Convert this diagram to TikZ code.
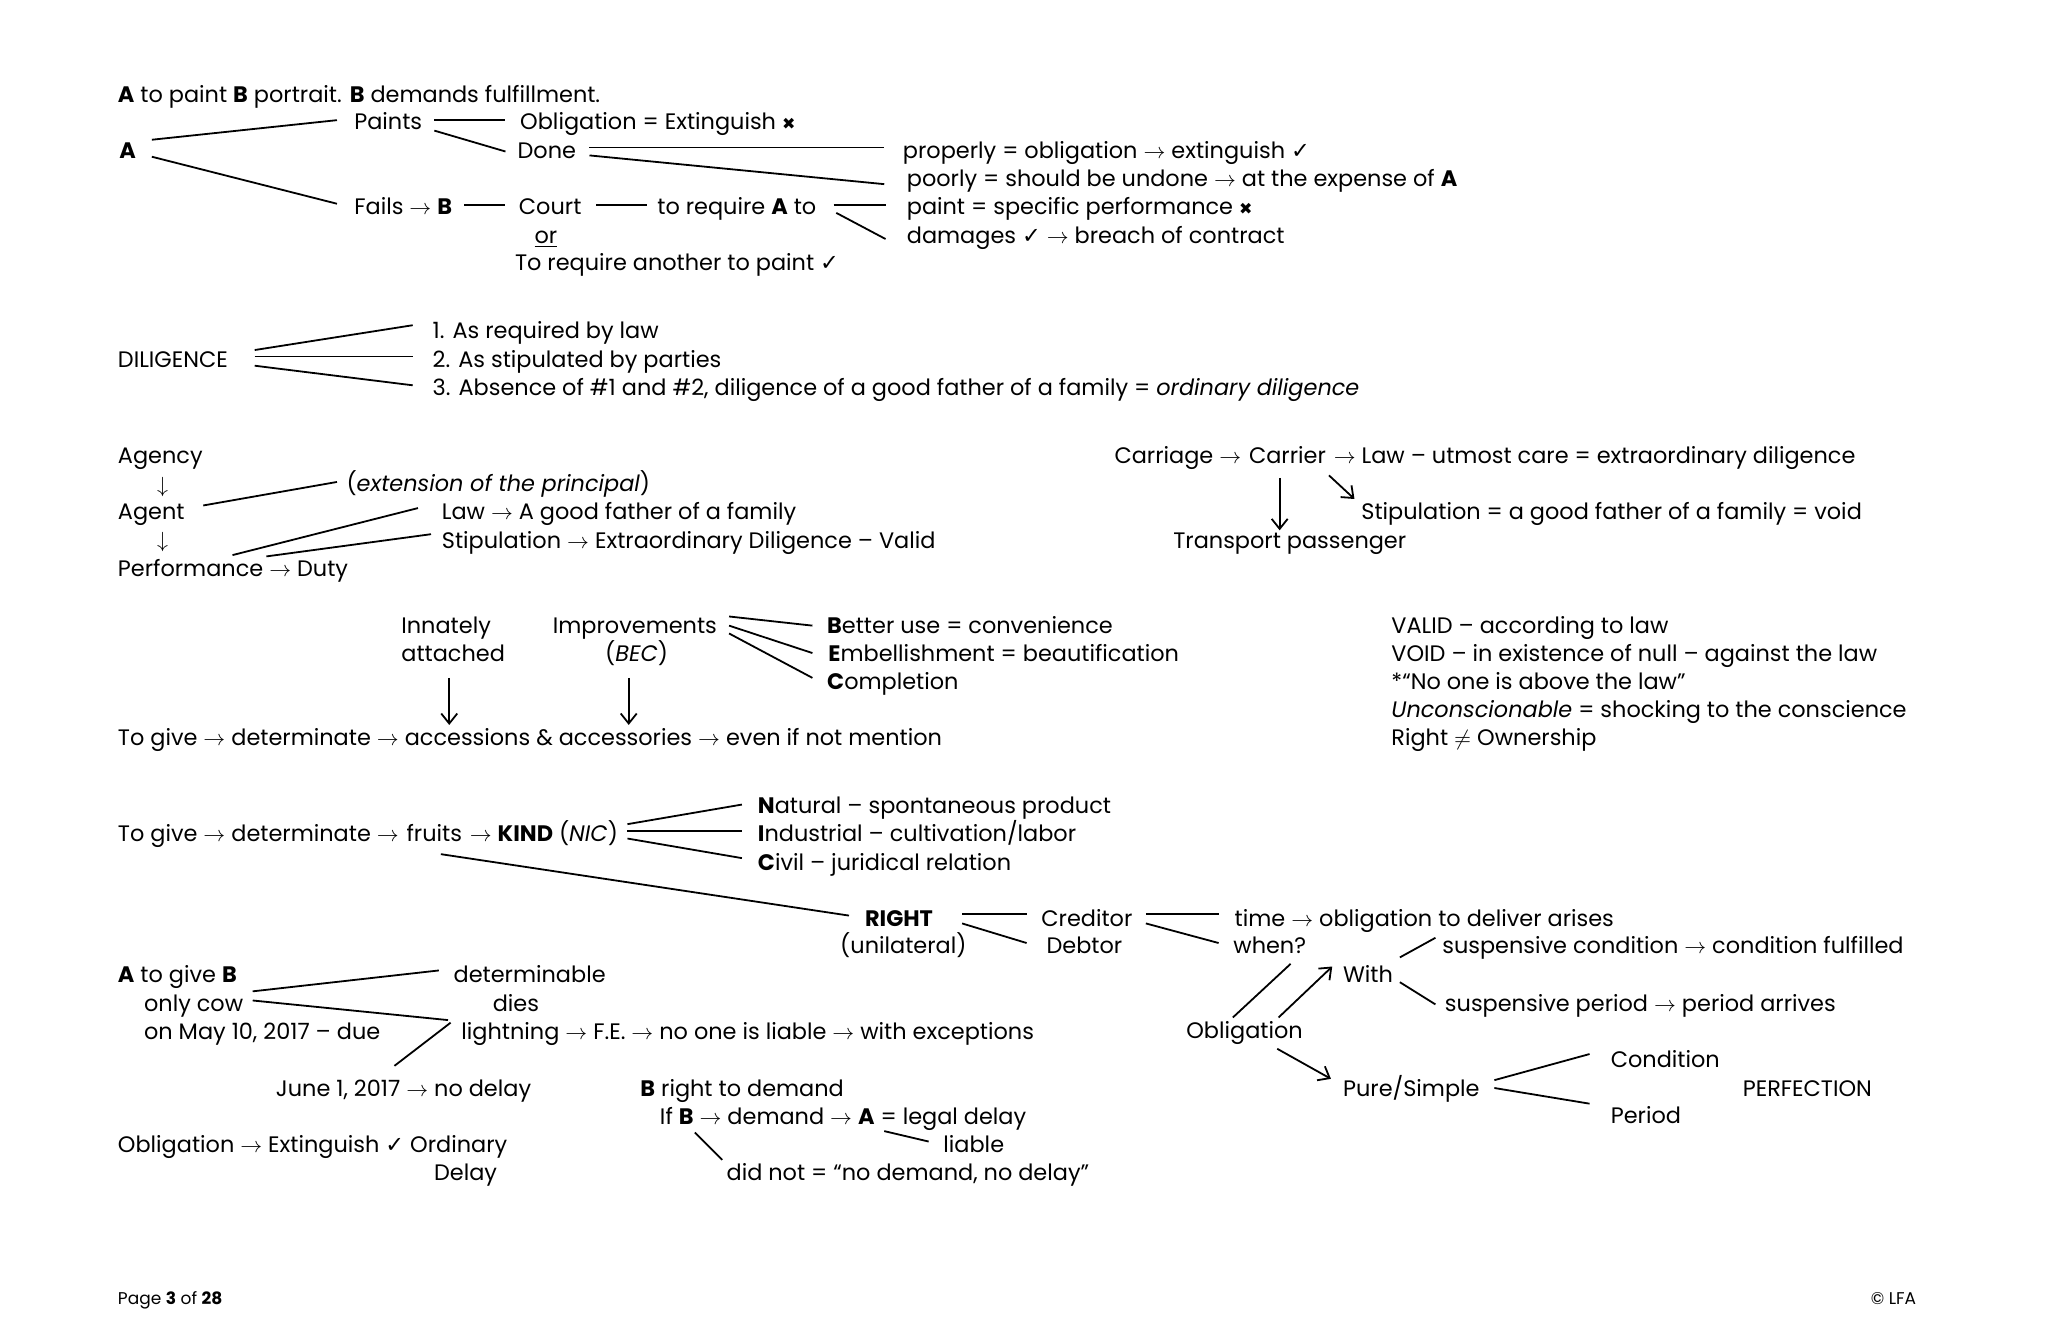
\documentclass[tikz,border=0pt]{standalone}
\usepackage{fontspec}
\setmainfont{Poppins}
\newfontfamily\symfont{DejaVu Sans}
\usetikzlibrary{arrows.meta,positioning,calc}
\newcommand{\tto}{\ensuremath{\rightarrow}}
\newcommand{\ck}{{\symfont\char"2713}}
\newcommand{\xx}{{\symfont\footnotesize\char"2716}}
\tikzset{
  txt/.style={anchor=west, inner sep=0pt, text height=9pt, text depth=1pt},
  conn/.style={line width=0.9pt},
  arr/.style={line width=0.9pt, -{Straight Barb[length=5pt,width=8pt]}},
}

\begin{document}
\begin{tikzpicture}[x=0.653pt, y=-0.653pt, font=\fontsize{11.2}{13.5}\selectfont]
  \useasboundingbox[fill=white] (0,0) rectangle (1568,1025);

  % portrait
  \node[txt] (title) at (90,72) {\textbf{A} to paint \textbf{B} portrait. \textbf{B} demands fulfillment.};
  \node[txt] (a) at (91,115) {\textbf{A}};
  \node[txt] (paints) at (271,93) {Paints};
  \node[txt] (oblig) at (398,93) {Obligation = Extinguish \xx};
  \node[txt] (done) at (396,115) {Done};
  \node[txt] (properly) at (691,115) {properly = obligation \tto{} extinguish \ck};
  \node[txt] (poorly) at (694,137) {poorly = should be undone \tto{} at the expense of \textbf{A}};
  \node[txt] (fails) at (271,158) {Fails \tto{} \textbf{B}};
  \node[txt] (court) at (397,158) {Court};
  \node[txt] (req) at (503,158) {to require \textbf{A} to};
  \node[txt] (paint) at (694,158) {paint = specific performance \xx};
  \node[txt] (damages) at (694,180) {damages \ck{} \tto{} breach of contract};
  \node[txt] (or) at (409,180) {\underline{or}};
  \node[txt] (another) at (394,201) {To require another to paint \ck};
  \draw[conn] ($(a.east)+(12,-8)$) -- ($(paints.west)+(-13,-1)$);
  \draw[conn] ($(a.east)+(12,5)$) -- ($(fails.west)+(-13,-2)$);
  \draw[conn] ($(paints.east)+(9,-1)$) -- ($(oblig.west)+(-11,-1)$);
  \draw[conn] ($(paints.east)+(9,7)$) -- ($(done.west)+(-9,1)$);
  \draw[conn] ($(done.east)+(10,-2)$) -- ($(properly.west)+(-14,-2)$);
  \draw[conn] ($(done.east)+(10,4)$) -- ($(poorly.west)+(-17,4)$);
  \draw[conn] ($(fails.east)+(9,-1)$) -- ($(court.west)+(-10,-1)$);
  \draw[conn] ($(court.east)+(11,-1)$) -- ($(req.west)+(-8,-1)$);
  \draw[conn] ($(req.east)+(13,-1)$) -- ($(paint.west)+(-16,-1)$);
  \draw[conn] ($(req.east)+(15,5)$) -- ($(damages.west)+(-16,3)$);

  % diligence
  \node[txt] (dil) at (90,275) {DILIGENCE};
  \node[txt] (dil1) at (331,253) {1. As required by law};
  \node[txt] (dil2) at (331,275) {2. As stipulated by parties};
  \node[txt] (dil3) at (331,297) {3. Absence of \#1 and \#2, diligence of a good father of a family = \textit{ordinary diligence}};
  \draw[conn] ($(dil.west)+(105,-7)$) -- ($(dil1.west)+(-15,-4)$);
  \draw[conn] ($(dil.west)+(105,-2)$) -- ($(dil2.west)+(-15,-2)$);
  \draw[conn] ($(dil.west)+(105,5)$) -- ($(dil3.west)+(-15,-2)$);

  % agency
  \node[txt] (agency) at (90,349) {Agency};
  \node[txt] (down1) at (120,371) {$\downarrow$};
  \node[txt] (agent) at (90,392) {Agent};
  \node[txt] (down2) at (120,413) {$\downarrow$};
  \node[txt] (perf) at (90,435) {Performance \tto{} Duty};
  \node[txt] (ext) at (265,370) {(\textit{extension of the principal})};
  \node[txt] (law) at (338,392) {Law \tto{} A good father of a family};
  \node[txt] (stip) at (338,414) {Stipulation \tto{} Extraordinary Diligence -- Valid};
  \draw[conn] ($(agent.east)+(14,-5)$) -- ($(ext.west)+(-7,-1)$);
  \draw[conn] ($(perf.west)+(88,-10)$) -- ($(law.west)+(-18,-3)$);
  \draw[conn] ($(perf.west)+(114,-9)$) -- ($(stip.west)+(-8,-5)$);

  % carriage
  \node[txt] (carriage) at (853,349) {Carriage \tto};
  \node[txt, right=3.5pt of carriage] (carrier) {Carrier};
  \node[txt, right=3.5pt of carrier] (utmost) {\tto{} Law -- utmost care = extraordinary diligence};
  \node[txt] (stipvoid) at (1042,392) {Stipulation = a good father of a family = void};
  \node[txt] (transport) at (898,414) {Transport passenger};
  \draw[arr] ($(carrier.south)+(-6,9)$) -- ($(carrier.south |- transport.north)+(-6,0)$);
  \draw[arr] ($(carrier.south east)+(2,7)$) -- ($(stipvoid.north west)+(-5,-2)$);

  % accessions
  \node[txt] (innate) at (307,479) {Innately};
  \node[txt] (attached) at (307,500) {attached};
  \node[txt] (impr) at (423,479) {Improvements};
  \node[txt] (bec) at (463,500) {(\textit{BEC})};
  \node[txt] (better) at (633,479) {\textbf{B}etter use = convenience};
  \node[txt] (embel) at (634,500) {\textbf{E}mbellishment = beautification};
  \node[txt] (compl) at (633,522) {\textbf{C}ompletion};
  \node[txt] (giveacc) at (90,565) {To give \tto{} determinate \tto{} accessions \& accessories \tto{} even if not mention};
  \draw[arr] ($(attached.south)+(-3,11)$) -- ($(attached.south |- giveacc.north)+(-3,-2)$);
  \draw[arr] ($(bec.south)+(-6,11)$) -- ($(bec.south |- giveacc.north)+(-6,-2)$);
  \draw[conn] ($(impr.east)+(9,-7)$) -- ($(better.west)+(-11,0)$);
  \draw[conn] ($(impr.east)+(9,0)$) -- ($(embel.west)+(-12,0)$);
  \draw[conn] ($(impr.east)+(9,6)$) -- ($(compl.west)+(-11,-3)$);

  % valid / void
  \node[txt] (valid) at (1065,479) {VALID -- according to law};
  \node[txt] (void) at (1065,500) {VOID -- in existence of null -- against the law};
  \node[txt] (noone) at (1065,522) {*``No one is above the law''};
  \node[txt] (uncon) at (1065,543) {\textit{Unconscionable} = shocking to the conscience};
  \node[txt] (owner) at (1065,565) {Right $\neq$ Ownership};

  % fruits
  \node[txt] (givefr) at (90,638) {To give \tto{} determinate \tto};
  \node[txt, right=3.5pt of givefr] (fruits) {fruits};
  \node[txt, right=3.5pt of fruits] (kind) {\tto{} \textbf{KIND} (\textit{NIC})};
  \node[txt] (natural) at (580,617) {\textbf{N}atural -- spontaneous product};
  \node[txt] (indust) at (580,638) {\textbf{I}ndustrial -- cultivation/labor};
  \node[txt] (civil) at (580,660) {\textbf{C}ivil -- juridical relation};
  \draw[conn] ($(kind.east)+(7,-7)$) -- ($(natural.west)+(-12,-1)$);
  \draw[conn] ($(kind.east)+(7,-2)$) -- ($(indust.west)+(-12,-2)$);
  \draw[conn] ($(kind.east)+(7,4)$) -- ($(civil.west)+(-12,-3)$);

  % right
  \node[txt] (right) at (662,703) {\textbf{RIGHT}};
  \node[txt] (unil) at (643,724) {(unilateral)};
  \node[txt] (cred) at (797,703) {Creditor};
  \node[txt] (debt) at (801,724) {Debtor};
  \node[txt] (time) at (945,703) {time \tto{} obligation to deliver arises};
  \node[txt] (when) at (944,724) {when?};
  \node[txt] (with) at (1028,746) {With};
  \node[txt] (suscond) at (1104,724) {suspensive condition \tto{} condition fulfilled};
  \node[txt] (susper) at (1106,768) {suspensive period \tto{} period arrives};
  \node[txt] (oblig2) at (908,789) {Obligation};
  \node[txt] (pure) at (1028,833) {Pure/Simple};
  \node[txt] (cond) at (1233,811) {Condition};
  \node[txt] (period) at (1233,854) {Period};
  \node[txt] (perfect) at (1334,833) {PERFECTION};
  \draw[conn] ($(fruits.south)+(5,8)$) -- ($(right.west)+(-12,-2)$);
  \draw[conn] ($(right.east)+(22,-3)$) -- ($(cred.west)+(-11,-3)$);
  \draw[conn] ($(right.east)+(22,4)$) -- ($(debt.west)+(-15,-2)$);
  \draw[conn] ($(cred.east)+(10,-3)$) -- ($(time.west)+(-12,-3)$);
  \draw[conn] ($(cred.east)+(10,4)$) -- ($(when.west)+(-11,-2)$);
  \draw[conn] ($(when.south)+(16,6)$) -- ($(oblig2.north)+(-9,-2)$);
  \draw[arr] ($(oblig2.north)+(26,-2)$) -- ($(with.west)+(-8,-6)$);
  \draw[conn] ($(with.east)+(5,-13)$) -- ($(suscond.west)+(-5,-6)$);
  \draw[conn] ($(with.east)+(5,6)$) -- ($(susper.west)+(-7,1)$);
  \draw[arr] ($(oblig2.south)+(25,6)$) -- ($(pure.west)+(-9,-7)$);
  \draw[conn] ($(pure.east)+(11,-6)$) -- ($(cond.west)+(-16,-4)$);
  \draw[conn] ($(pure.east)+(11,0)$) -- ($(period.west)+(-16,-9)$);

  % cow
  \node[txt] (cow1) at (90,746) {\textbf{A} to give \textbf{B}};
  \node[txt] (cow2) at (110,768) {only cow};
  \node[txt] (cow3) at (110,790) {on May 10, 2017 -- due};
  \node[txt] (determ) at (347,746) {determinable};
  \node[txt] (dies) at (377,768) {dies};
  \node[txt] (light) at (353,790) {lightning \tto{} F.E. \tto{} no one is liable \tto{} with exceptions};
  \node[txt] (june) at (211,833) {June 1, 2017 \tto{} no delay};
  \node[txt] (bright) at (490,833) {\textbf{B} right to demand};
  \node[txt] (ifb) at (505,855) {If \textbf{B} \tto{} demand \tto{} \textbf{A} = legal delay};
  \node[txt] (liable) at (722,876) {liable};
  \node[txt] (didnot) at (556,898) {did not = ``no demand, no delay''};
  \node[txt] (extord) at (90,876) {Obligation \tto{} Extinguish \ck{} Ordinary};
  \node[txt] (delay) at (332,898) {Delay};
  \draw[conn] ($(cow2.east)+(7,-9)$) -- ($(determ.west)+(-11,-3)$);
  \draw[conn] ($(cow2.east)+(7,-2)$) -- ($(light.west)+(-10,-9)$);
  \draw[conn] ($(june.north west)+(91,-9)$) -- ($(light.west)+(-8,-7)$);
  \draw[conn] ($(ifb.west)+(172,11)$) -- ($(liable.west)+(-11,-2)$);
  \draw[conn] ($(ifb.west)+(27,12)$) -- ($(didnot.west)+(-3,-10)$);

  % footer
  \node[txt, font=\fontsize{8.5}{10}\selectfont] (page) at (90,993) {Page \textbf{3} of \textbf{28}};
  \node[txt, font=\fontsize{8.5}{10}\selectfont] (lfa) at (1432,993) {\textcopyright{} LFA};
\end{tikzpicture}
\end{document}
